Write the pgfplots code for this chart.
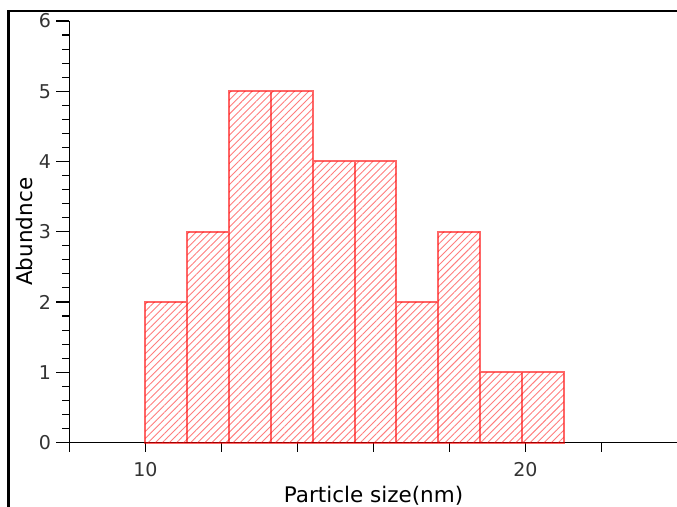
\documentclass[border=0pt]{standalone}
\usepackage{fontspec}
\setmainfont{DejaVu Sans}
\usepackage{pgfplots}
\pgfplotsset{compat=1.18}
\usetikzlibrary{patterns.meta}
\definecolor{hatchred}{RGB}{255,40,40}
\begin{document}
\begin{tikzpicture}[x=1pt,y=1pt]
\useasboundingbox (-69.5,-63.5) rectangle (607.5,442.5);
\clip (-69.5,-63.5) rectangle (607.5,442.5);
\draw[line width=2.2pt] (-61,-70) -- (-61,431.5) -- (620,431.5);
\begin{axis}[
  at={(0,0)}, anchor=south west,
  width=608pt, height=421.5pt, scale only axis,
  xmin=8, xmax=24, ymin=0, ymax=6,
  axis x line=bottom, axis y line=left,
  axis line style={-, line width=1.2pt, black},
  tick align=outside,
  tick style={black, line width=1.1pt},
  major tick length=13pt, minor tick length=7pt,
  xtick style={/pgfplots/major tick length=9pt},
  ytick={0,1,...,6}, minor y tick num=4,
  xtick={8,10,...,24}, xticklabels={,10,,,,,20,,},
  /pgf/number format/assume math mode=true,
  tick label style={font=\fontsize{19}{19}\selectfont, text=black!80},
  yticklabel style={xshift=-2pt},
  xticklabel style={yshift=-3pt},
  xlabel={Particle size(nm)}, ylabel={Abundnce},
  label style={font=\fontsize{21.5}{21.5}\selectfont},
  xlabel style={at={(axis description cs:0.5,0)}, anchor=base, yshift=-59.5pt},
  ylabel style={at={(axis description cs:0,0.5)}, anchor=base, yshift=36.5pt},
  clip=false,
]
\addplot[ybar interval, draw=red, draw opacity=0.6, line width=2pt,
  pattern={Lines[angle=45,distance=5pt,line width=0.9pt]}, pattern color=hatchred]
  coordinates {(10,2) (11.1,3) (12.2,5) (13.3,5) (14.4,4) (15.5,4) (16.6,2) (17.7,3) (18.8,1) (19.9,1) (21,1)};
\end{axis}
\end{tikzpicture}
\end{document}
